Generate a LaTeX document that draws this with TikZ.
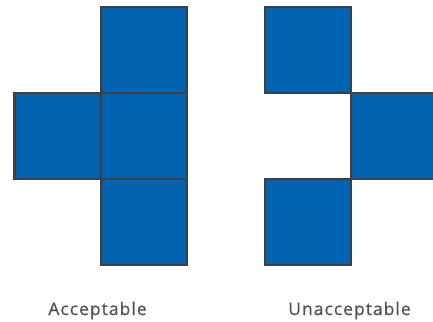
\documentclass[tikz,border=0pt]{standalone}
\usepackage{fontspec}
\setmainfont{Open Sans}
\usepackage{xcolor}
\usepackage{tikz}
\usetikzlibrary{positioning}
\definecolor{tileBlue}{RGB}{0, 99, 177}
\definecolor{tileEdge}{RGB}{64, 64, 66}
\definecolor{labelGray}{RGB}{80, 80, 80}

\tikzset{
    tile/.style={draw=tileEdge, fill=tileBlue, line width=2.4bp, minimum size=86bp, inner sep=0pt},
    caption/.style={text=labelGray, font=\fontsize{17.5}{19}\selectfont\addfontfeature{LetterSpace=6, FakeBold=0.6}}
}

\begin{document}
\begin{tikzpicture}[x=1bp, y=1bp]
    \clip (0, 0) rectangle (433, 321);
    \useasboundingbox (0, 0) rectangle (433, 321);

    % Acceptable: cross shape
    \node[tile] (acTop) at (143.7, 271) {};
    \node[tile] (acMid) at (143.7, 185) {};
    \node[tile] (acLeft) at (57.5, 185) {};
    \node[tile] (acBot) at (143.7, 99) {};

    % Unacceptable: corners only
    \node[tile] (unTop) at (308, 271) {};
    \node[tile] (unRight) at (394, 185) {};
    \node[tile] (unBot) at (308, 99) {};

    % Captions
    \node[caption] (acLabel) at (97.5, 10.5) {Acceptable};
    \node[caption] (unLabel) at (349.5, 10.5) {Unacceptable};
\end{tikzpicture}
\end{document}
